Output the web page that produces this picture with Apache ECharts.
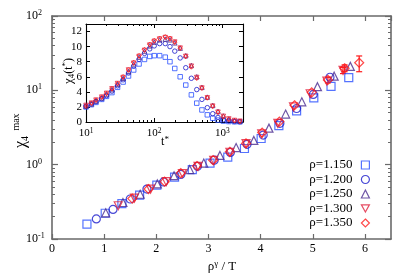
<!DOCTYPE html>
<html><head><meta charset="utf-8">
<script src="https://cdn.jsdelivr.net/npm/echarts@6/dist/echarts.min.js"></script>
<style>html,body{margin:0;padding:0;background:#fff}#c{width:399px;height:279px}</style>
</head><body><div id="c"></div>
<script>
// ---- data: main panel (x = rho^gamma/T, y = chi4^max) ----
const names = ['ρ=1.150', 'ρ=1.200', 'ρ=1.250', 'ρ=1.300', 'ρ=1.350'];
const main1150 = [[0.67,0.159],[1.02,0.222],[1.34,0.30],[1.68,0.39],[2.01,0.53],[2.35,0.68],[2.69,0.86],[3.03,1.05],[3.37,1.26],[3.69,1.65],[4.01,2.25],[4.35,3.35],[4.69,5.3],[5.02,7.9],[5.35,11.3],[5.69,14.8]];
const main1200 = [[0.85,0.186],[1.17,0.25],[1.50,0.345],[1.82,0.47],[2.14,0.585],[2.47,0.74],[2.79,0.95],[3.11,1.15],[3.42,1.46],[3.74,1.88],[4.05,2.5],[4.37,3.6],[4.69,5.7],[5.01,8.8],[5.33,15.0]];
const main1250 = [[1.03,0.225],[1.36,0.31],[1.69,0.40],[2.02,0.55],[2.34,0.71],[2.64,0.86],[2.91,1.05],[3.22,1.33],[3.53,1.70],[3.87,2.12],[4.16,3.1],[4.48,4.8],[4.79,7.0],[5.09,11.2],[5.41,15.5],[5.72,21.0]];
const main1300 = [[1.27,0.28],[1.58,0.355],[1.89,0.47],[2.19,0.59],[2.50,0.76],[2.80,0.95],[3.10,1.14],[3.41,1.47],[3.72,1.92],[4.02,2.6],[4.33,3.6],[4.63,6.0],[4.95,9.0],[5.27,13.3],[5.58,18.5]];
const main1350 = [[1.54,0.35],[1.85,0.47],[2.16,0.59],[2.47,0.77],[2.78,0.96],[3.09,1.15],[3.41,1.49],[3.72,1.93],[4.03,2.7],[4.36,3.8],[4.65,6.3],[4.98,9.4],[5.29,13.8],[5.61,19.8],[5.89,23.5]];
// error bars [x, low, high]
const errMain = [[5.89,17.8,29.0],[5.61,17.8,22.0],[5.58,16.8,20.3],[5.29,12.6,15.0]];

// ---- data: inset (t*, chi4(t*)) ----
const insetT = [10,12,14,17,20,24,29,35,42,50,60,72,86,100,120,145,170,200,240,290,350,420,500,600,720,860,1030,1240,1500,1800];
const ins1150 = [2.0,2.3,2.6,3.0,3.4,3.9,4.6,5.3,6.1,6.9,7.7,8.3,8.7,8.8,8.8,8.6,8.0,7.1,6.0,4.9,3.6,2.5,1.6,0.95,0.5,0.25,0.12,0.06,0.03,0.02];
const ins1200 = [2.1,2.4,2.7,3.1,3.5,4.1,4.8,5.6,6.5,7.4,8.3,9.1,9.7,10.1,10.4,10.4,10.0,9.4,8.5,7.2,5.8,4.3,3.0,1.9,1.1,0.6,0.3,0.15,0.08,0.04];
const ins1250 = [2.1,2.4,2.8,3.2,3.7,4.3,5.0,5.8,6.7,7.7,8.6,9.4,10.1,10.6,10.9,11.0,10.9,10.5,9.8,8.8,7.5,6.0,4.6,3.3,2.2,1.4,0.8,0.4,0.2,0.1];
const ins1300 = [2.2,2.5,2.9,3.3,3.8,4.4,5.1,5.9,6.9,7.8,8.7,9.5,10.2,10.7,11.0,11.2,11.0,10.6,9.8,8.7,7.4,5.9,4.5,3.2,2.1,1.3,0.75,0.4,0.2,0.1];
const ins1350 = [2.1,2.5,2.9,3.3,3.8,4.4,5.1,6.0,6.9,7.9,8.8,9.6,10.3,10.8,11.1,11.3,11.1,10.6,9.8,8.7,7.3,5.8,4.5,3.2,2.1,1.3,0.7,0.35,0.18,0.1];

const colors = ['#2b50ff', '#1a1acc', '#4a2a90', '#e0203c', '#ff1a1a'];
const symbols = ['rect', 'circle', 'triangle', 'path://M0,0L10,0L5,9Z', 'diamond'];
const mainSets = [main1150, main1200, main1250, main1300, main1350];
const insSets = [ins1150, ins1200, ins1250, ins1300, ins1350];

const SERIF = 'Liberation Serif';
const supRich = {
  b: {fontSize: 12, fontFamily: SERIF, color: '#000', lineHeight: 14},
  s: {fontSize: 8, fontFamily: SERIF, color: '#000', lineHeight: 8, verticalAlign: 'top'}
};
function logLabel(v) {
  const e = Math.round(Math.log10(v));
  return '{b|10}{s|' + (e < 0 ? '-' + (-e) : e) + '}';
}
function minorLogTicks(lo, hi) {
  const out = [];
  for (let d = lo; d < hi; d++) for (let k = 2; k <= 9; k++) out.push(d + Math.log10(k));
  return out;
}

const series = [];
mainSets.forEach((d, i) => {
  series.push({
    name: names[i], type: 'scatter', xAxisIndex: 0, yAxisIndex: 0, data: d,
    symbol: symbols[i], symbolSize: i === 4 ? 9 : 8,
    itemStyle: {color: 'rgba(255,255,255,0)', borderColor: colors[i], borderWidth: 1.2},
    z: 3
  });
});
series.push({
  type: 'custom', xAxisIndex: 0, yAxisIndex: 0, data: errMain, z: 3,
  renderItem: function (params, api) {
    const lo = api.coord([api.value(0), api.value(1)]);
    const hi = api.coord([api.value(0), api.value(2)]);
    const st = {stroke: '#ff1a1a', lineWidth: 1.2};
    return {type: 'group', children: [
      {type: 'line', shape: {x1: lo[0], y1: lo[1], x2: hi[0], y2: hi[1]}, style: st},
      {type: 'line', shape: {x1: lo[0]-3, y1: lo[1], x2: lo[0]+3, y2: lo[1]}, style: st},
      {type: 'line', shape: {x1: hi[0]-3, y1: hi[1], x2: hi[0]+3, y2: hi[1]}, style: st}
    ]};
  }
});
insSets.forEach((d, i) => {
  series.push({
    name: names[i] + ' inset', type: 'scatter', xAxisIndex: 2, yAxisIndex: 4,
    data: insetT.map((t, j) => [t, d[j]]),
    symbol: symbols[i], symbolSize: 4.5,
    itemStyle: {color: 'rgba(255,255,255,0)', borderColor: colors[i], borderWidth: 1},
    z: 5
  });
});

const mainLine = {show: true, onZero: false, lineStyle: {color: '#6a6a6a', width: 1.6}};
const inLine = {show: true, onZero: false, lineStyle: {color: '#000', width: 1.1}};
const noLine = {show: false, onZero: false};

const option = {
  animation: false,
  grid: [
    {left: 52, right: 8, top: 16, bottom: 40},
    {left: 86, right: 156, top: 24, bottom: 157}
  ],
  legend: {
    data: names.map((n, i) => ({name: n, icon: symbols[i],
      itemStyle: {color: 'rgba(255,255,255,0)', borderColor: colors[i], borderWidth: 1.2}})),
    orient: 'vertical', right: 24, top: 153, align: 'right',
    itemWidth: 8, itemHeight: 8, itemGap: 0.5, selectedMode: false,
    textStyle: {fontFamily: SERIF, fontSize: 13, color: '#000', lineHeight: 14, padding: [0, 4, 0, 0]}
  },
  xAxis: [
    {gridIndex: 0, type: 'value', min: 0, max: 6.5, interval: 1, position: 'bottom',
     axisLine: mainLine, splitLine: {show: false},
     axisTick: {inside: true, length: 5, lineStyle: {color: '#6a6a6a', width: 1.2}},
     axisLabel: {fontFamily: SERIF, fontSize: 12, color: '#000', margin: 4, showMaxLabel: false}},
    {gridIndex: 0, type: 'value', min: 0, max: 6.5, interval: 1, position: 'top',
     axisLine: mainLine, splitLine: {show: false},
     axisTick: {inside: true, length: 5, lineStyle: {color: '#6a6a6a', width: 1.2}},
     axisLabel: {show: false}},
    {gridIndex: 1, type: 'log', logBase: 10, min: 10, max: 2000, position: 'bottom',
     axisLine: inLine, splitLine: {show: false},
     axisTick: {inside: true, length: 4, lineStyle: {color: '#000'}},
     axisLabel: {margin: 5, showMaxLabel: false, formatter: logLabel,
       rich: {b: {fontSize: 11, fontFamily: SERIF, color: '#000', lineHeight: 13}, s: {fontSize: 7.5, fontFamily: SERIF, color: '#000', lineHeight: 7, verticalAlign: 'top'}}}},
    {gridIndex: 1, type: 'log', logBase: 10, min: 10, max: 2000, position: 'top',
     axisLine: inLine, splitLine: {show: false},
     axisTick: {inside: true, length: 4, lineStyle: {color: '#000'}}, axisLabel: {show: false}},
    {gridIndex: 1, type: 'value', min: 1, max: Math.log10(2000), position: 'bottom',
     axisLine: noLine, splitLine: {show: false}, axisLabel: {show: false},
     axisTick: {inside: true, length: 2, customValues: minorLogTicks(1, 4), lineStyle: {color: '#000'}}},
    {gridIndex: 1, type: 'value', min: 1, max: Math.log10(2000), position: 'top',
     axisLine: noLine, splitLine: {show: false}, axisLabel: {show: false},
     axisTick: {inside: true, length: 2, customValues: minorLogTicks(1, 4), lineStyle: {color: '#000'}}}
  ],
  yAxis: [
    {gridIndex: 0, type: 'log', logBase: 10, min: 0.1, max: 100, position: 'left',
     axisLine: mainLine, splitLine: {show: false},
     axisTick: {inside: true, length: 6, lineStyle: {color: '#6a6a6a', width: 1.2}},
     axisLabel: {formatter: logLabel, rich: supRich, align: 'left', margin: 26}},
    {gridIndex: 0, type: 'log', logBase: 10, min: 0.1, max: 100, position: 'right',
     axisLine: mainLine, splitLine: {show: false},
     axisTick: {inside: true, length: 6, lineStyle: {color: '#6a6a6a', width: 1.2}},
     axisLabel: {show: false}},
    {gridIndex: 0, type: 'value', min: -1, max: 2, position: 'left',
     axisLine: noLine, splitLine: {show: false}, axisLabel: {show: false},
     axisTick: {inside: true, length: 3, customValues: minorLogTicks(-1, 2), lineStyle: {color: '#6a6a6a', width: 1}}},
    {gridIndex: 0, type: 'value', min: -1, max: 2, position: 'right',
     axisLine: noLine, splitLine: {show: false}, axisLabel: {show: false},
     axisTick: {inside: true, length: 3, customValues: minorLogTicks(-1, 2), lineStyle: {color: '#6a6a6a', width: 1}}},
    {gridIndex: 1, type: 'value', min: 0, max: 13, interval: 2, position: 'left',
     axisLine: inLine, splitLine: {show: false},
     axisTick: {inside: true, length: 4, lineStyle: {color: '#000'}},
     axisLabel: {fontFamily: SERIF, fontSize: 11, color: '#000', margin: 4, showMaxLabel: false}},
    {gridIndex: 1, type: 'value', min: 0, max: 13, interval: 2, position: 'right',
     axisLine: inLine, splitLine: {show: false},
     axisTick: {inside: true, length: 4, lineStyle: {color: '#000'}}, axisLabel: {show: false}}
  ],
  graphic: [
    {type: 'text', x: 21, y: 142, rotation: Math.PI / 2, z: 10,
     style: {text: '{c|χ}{sub|4}', align: 'center', verticalAlign: 'middle',
       rich: {c: {fontFamily: SERIF, fontSize: 16, fill: '#000', lineHeight: 18},
              sub: {fontFamily: SERIF, fontSize: 10, fill: '#000', lineHeight: 10, verticalAlign: 'bottom'}}}},
    {type: 'text', x: 16, y: 122, rotation: Math.PI / 2, z: 10,
     style: {text: 'max', align: 'center', verticalAlign: 'middle', fontFamily: SERIF, fontSize: 10, fill: '#000'}},
    {type: 'text', x: 69, y: 71, rotation: Math.PI / 2, z: 10,
     style: {text: '{c|χ}{sub|4}{n|(t}{sup|*}{n|)}', align: 'center', verticalAlign: 'middle',
       rich: {c: {fontFamily: SERIF, fontSize: 13, fill: '#000', lineHeight: 15},
              n: {fontFamily: SERIF, fontSize: 12, fill: '#000', lineHeight: 15},
              sub: {fontFamily: SERIF, fontSize: 9, fill: '#000', lineHeight: 9, verticalAlign: 'bottom'},
              sup: {fontFamily: SERIF, fontSize: 9, fill: '#000', lineHeight: 9, verticalAlign: 'top'}}}},
    {type: 'text', x: 165, y: 142, z: 10,
     style: {text: '{n|t}{sup|*}', align: 'center', verticalAlign: 'middle',
       rich: {n: {fontFamily: SERIF, fontSize: 12, fill: '#000', lineHeight: 14},
              sup: {fontFamily: SERIF, fontSize: 9, fill: '#000', lineHeight: 9, verticalAlign: 'top'}}}},
    {type: 'text', x: 222, y: 267, z: 10,
     style: {text: '{n|ρ}{sup|γ}{n| / T}', align: 'center', verticalAlign: 'middle',
       rich: {n: {fontFamily: SERIF, fontSize: 13, fill: '#000', lineHeight: 15},
              sup: {fontFamily: SERIF, fontSize: 9, fill: '#000', lineHeight: 9, verticalAlign: 'top'}}}}
  ],
  series: series
};
const chart = echarts.init(document.getElementById('c'), null, {renderer: 'canvas'});
chart.setOption(option);
</script></body></html>
